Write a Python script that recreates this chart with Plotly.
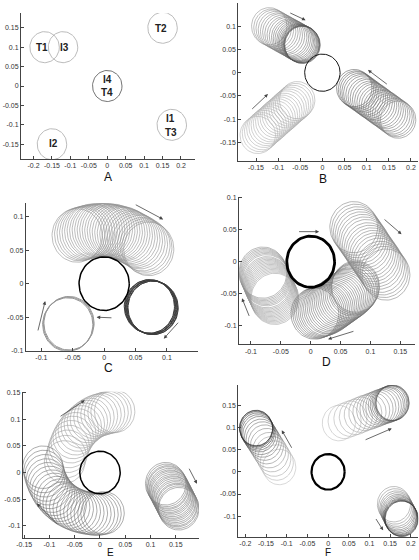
import numpy as np
import plotly.graph_objects as go

W, H = 419, 560
R = 0.04

# ---------------- data ----------------
# Panel A: named circles
A_names = ["T1", "I3", "T2", "I4/T4", "I1/T3", "I2"]
A_cx = [-0.17, -0.12, 0.15, 0.0, 0.175, -0.15]
A_cy = [0.10, 0.10, 0.15, 0.0, -0.10, -0.15]
A_lbl_text = ["T1", "I3", "T2", "I4", "T4", "I1", "T3", "I2"]
A_lbl_x = [-0.178, -0.117, 0.147, 0.0, 0.0, 0.172, 0.174, -0.146]
A_lbl_y = [0.10, 0.10, 0.149, 0.016, -0.017, -0.083, -0.119, -0.149]

# Panel B
B_ul_x = [-0.120, -0.115, -0.110, -0.105, -0.100, -0.095, -0.090, -0.085, -0.080, -0.075, -0.071,
          -0.067, -0.063, -0.060, -0.057, -0.054, -0.052, -0.050, -0.048, -0.047, -0.046, -0.045]
B_ul_y = [0.100, 0.097, 0.095, 0.092, 0.089, 0.087, 0.084, 0.081, 0.079, 0.076, 0.074,
          0.072, 0.070, 0.068, 0.066, 0.065, 0.064, 0.063, 0.062, 0.061, 0.061, 0.060]
B_ll_x = [-0.146, -0.141, -0.136, -0.131, -0.126, -0.121, -0.116, -0.111, -0.106, -0.101,
          -0.096, -0.091, -0.086, -0.081, -0.076, -0.071, -0.066, -0.061, -0.057]
B_ll_y = [-0.134, -0.130, -0.126, -0.121, -0.117, -0.113, -0.109, -0.105, -0.100, -0.096,
          -0.092, -0.088, -0.084, -0.079, -0.075, -0.071, -0.067, -0.063, -0.059]
B_r_x = [0.072, 0.076, 0.080, 0.084, 0.088, 0.093, 0.098, 0.103, 0.108, 0.113, 0.118,
         0.123, 0.128, 0.133, 0.138, 0.143, 0.148, 0.153, 0.158, 0.163, 0.167, 0.171]
B_r_y = [-0.033, -0.036, -0.038, -0.041, -0.044, -0.047, -0.051, -0.054, -0.058, -0.061, -0.064,
         -0.068, -0.071, -0.075, -0.078, -0.081, -0.085, -0.088, -0.092, -0.095, -0.098, -0.101]

# Panel C
C_top_x = [-0.043, -0.039, -0.035, -0.031, -0.027, -0.023, -0.019, -0.015, -0.011, -0.007, -0.003,
           0.001, 0.005, 0.009, 0.013, 0.017, 0.021, 0.025, 0.029, 0.033, 0.037, 0.041, 0.045,
           0.049, 0.053, 0.057, 0.061, 0.065, 0.068, 0.071]
C_top_y = [0.072, 0.074, 0.075, 0.076, 0.077, 0.078, 0.079, 0.079, 0.080, 0.080, 0.080,
           0.080, 0.080, 0.079, 0.079, 0.078, 0.077, 0.076, 0.075, 0.074, 0.072, 0.070, 0.068,
           0.066, 0.064, 0.062, 0.059, 0.057, 0.054, 0.052]
C_ll_x = [-0.058, -0.057, -0.056]
C_ll_y = [-0.061, -0.060, -0.059]
C_r_x = [0.072, 0.073, 0.074, 0.075, 0.076, 0.077, 0.078]
C_r_y = [-0.034, -0.034, -0.035, -0.035, -0.035, -0.036, -0.036]

# Panel D
D_l_x = [-0.060, -0.061, -0.062, -0.063, -0.064, -0.065, -0.066, -0.067, -0.068, -0.069, -0.070,
         -0.071, -0.072, -0.073, -0.074, -0.075, -0.076, -0.077, -0.078, -0.079, -0.080]
D_l_y = [-0.058, -0.056, -0.054, -0.052, -0.050, -0.048, -0.046, -0.044, -0.042, -0.040, -0.038,
         -0.036, -0.034, -0.032, -0.029, -0.027, -0.025, -0.023, -0.021, -0.019, -0.017]
D_m_x = [0.007, 0.010, 0.013, 0.016, 0.019, 0.022, 0.025, 0.028, 0.031, 0.034, 0.037, 0.040, 0.043,
         0.046, 0.049, 0.052, 0.055, 0.058, 0.061, 0.064, 0.067, 0.070, 0.072, 0.074, 0.075]
D_m_y = [-0.081, -0.080, -0.079, -0.078, -0.077, -0.076, -0.075, -0.073, -0.072, -0.070, -0.068,
         -0.066, -0.064, -0.062, -0.060, -0.058, -0.056, -0.054, -0.052, -0.050, -0.048, -0.045,
         -0.043, -0.041, -0.039]
D_r_x = [0.072, 0.075, 0.078, 0.081, 0.084, 0.087, 0.090, 0.093, 0.096, 0.099, 0.102, 0.105,
         0.108, 0.111, 0.114, 0.117, 0.120, 0.123, 0.126]
D_r_y = [0.054, 0.050, 0.046, 0.042, 0.038, 0.034, 0.030, 0.026, 0.021, 0.017, 0.013, 0.009,
         0.005, 0.001, -0.003, -0.008, -0.012, -0.016, -0.020]

# Panel E
E_up_x = [-0.070, -0.067, -0.064, -0.061, -0.057, -0.053, -0.048, -0.043, -0.037, -0.031,
          -0.025, -0.019, -0.012, -0.005, 0.002, 0.009, 0.016, 0.022, 0.029]
E_up_y = [0.020, 0.030, 0.040, 0.049, 0.058, 0.066, 0.073, 0.080, 0.086, 0.091,
          0.096, 0.100, 0.104, 0.107, 0.109, 0.111, 0.113, 0.114, 0.115]
E_lo_x = [-0.113, -0.111, -0.109, -0.106, -0.103, -0.099, -0.095, -0.090, -0.085, -0.079, -0.073,
          -0.067, -0.060, -0.053, -0.046, -0.039, -0.032, -0.025, -0.018, -0.011, -0.004, 0.002, 0.008]
E_lo_y = [0.010, 0.002, -0.006, -0.014, -0.021, -0.028, -0.035, -0.041, -0.047, -0.052, -0.057,
          -0.061, -0.065, -0.068, -0.071, -0.073, -0.075, -0.076, -0.077, -0.078, -0.078, -0.077, -0.076]
E_r_x = [0.130, 0.132, 0.134, 0.135, 0.137, 0.138, 0.140, 0.141, 0.143, 0.144, 0.146, 0.147,
         0.149, 0.150, 0.152, 0.153, 0.155, 0.156]
E_r_y = [-0.021, -0.024, -0.027, -0.029, -0.032, -0.035, -0.037, -0.040, -0.043, -0.046, -0.048,
         -0.051, -0.054, -0.057, -0.060, -0.062, -0.065, -0.068]

# Panel F
F_ul_x = [-0.118, -0.124, -0.130, -0.136, -0.142, -0.148, -0.153, -0.158, -0.162, -0.166, -0.169,
          -0.171, -0.173, -0.174, -0.174]
F_ul_y = [0.011, 0.021, 0.030, 0.040, 0.049, 0.058, 0.066, 0.073, 0.079, 0.085, 0.089,
          0.093, 0.096, 0.098, 0.099]
F_ur_x = [0.026, 0.040, 0.054, 0.067, 0.079, 0.090, 0.100, 0.109, 0.117, 0.124, 0.131, 0.137,
          0.142, 0.146, 0.150, 0.153, 0.155, 0.156]
F_ur_y = [0.110, 0.115, 0.120, 0.124, 0.129, 0.133, 0.136, 0.139, 0.142, 0.145, 0.147, 0.149,
          0.151, 0.152, 0.154, 0.155, 0.155, 0.156]
F_lr_x = [0.159, 0.162, 0.165, 0.167, 0.169, 0.171, 0.173, 0.174, 0.175, 0.176, 0.177, 0.178]
F_lr_y = [-0.073, -0.078, -0.083, -0.087, -0.091, -0.094, -0.097, -0.100, -0.102, -0.104, -0.105, -0.106]

# arrows: (tail_x, tail_y, head_x, head_y)
B_arrows = [(-0.076, 0.130, -0.038, 0.113), (-0.162, -0.081, -0.123, -0.046), (0.149, -0.027, 0.103, 0.006)]
C_arrows = [(0.048, 0.119, 0.094, 0.096), (-0.106, -0.072, -0.094, -0.026),
            (0.014, -0.051, -0.012, -0.050), (0.120, -0.056, 0.095, -0.082)]
D_arrows = [(-0.022, 0.047, 0.014, 0.047), (0.121, 0.068, 0.152, 0.043),
            (0.074, -0.108, 0.029, -0.121), (-0.102, -0.087, -0.115, -0.057)]
E_arrows = [(-0.081, 0.104, -0.030, 0.136), (-0.081, -0.100, -0.125, -0.058), (0.175, 0.010, 0.192, -0.021)]
F_arrows = [(-0.086, 0.051, -0.112, 0.094), (0.087, 0.071, 0.154, 0.098), (0.1135, -0.103, 0.133, -0.132)]

# ticks
A_xt = [-0.2, -0.15, -0.1, -0.05, 0, 0.05, 0.1, 0.15, 0.2]
A_yt = [-0.15, -0.1, -0.05, 0, 0.05, 0.1, 0.15]
B_xt = [-0.15, -0.1, -0.05, 0, 0.05, 0.1, 0.15, 0.2]
B_yt = [-0.15, -0.1, -0.05, 0, 0.05, 0.1]
C_xt = [-0.1, -0.05, 0, 0.05, 0.1]
C_yt = [-0.1, -0.05, 0, 0.05, 0.1]
D_xt = [-0.1, -0.05, 0, 0.05, 0.1, 0.15]
D_yt = [-0.1, -0.05, 0, 0.05, 0.1]
E_xt = [-0.15, -0.1, -0.05, 0, 0.05, 0.1, 0.15]
E_yt = [-0.1, -0.05, 0, 0.05, 0.1, 0.15]
F_xt = [-0.2, -0.15, -0.1, -0.05, 0, 0.05, 0.1, 0.15, 0.2]
F_yt = [-0.1, -0.05, 0, 0.05, 0.1, 0.15]
panel_names = ["A", "B", "C", "D", "E", "F"]

# ---------------- layout geometry (px) ----------------
# name: (x0, x1, ytop, ybottom, xrange, yrange, xticks, yticks, label px, label anchor, label size)
panels = {
    "A": (21, 195, 13, 159, [-0.234, 0.238], [-0.188, 0.188], A_xt, A_yt, (108, 177), "middle", 12),
    "B": (238.3, 418, 3, 161, [-0.19, 0.216], [-0.19, 0.15], B_xt, B_yt, (323, 179), "middle", 12),
    "C": (25.7, 198.3, 203.3, 350.7, [-0.125, 0.15], [-0.1, 0.12], C_xt, C_yt, (108, 368), "middle", 12),
    "D": (239, 414.7, 196.7, 344.3, [-0.12, 0.174], [-0.129, 0.1016], D_xt, D_yt, (326, 362), "middle", 12),
    "E": (22.7, 199, 391.7, 538, [-0.153, 0.196], [-0.123, 0.152], E_xt, E_yt, (110, 560), "bottom", 10),
    "F": (238.3, 418.3, 385, 537, [-0.217, 0.218], [-0.147, 0.196], F_xt, F_yt, (328, 560), "bottom", 10),
}

fig = go.Figure()
theta = np.linspace(0, 2 * np.pi, 73)


def fmt(v):
    if v == 0:
        return "0"
    return "%g" % v


def grey(level):
    g = int(round(level))
    return "rgb(%d,%d,%d)" % (g, g, g)


def circles(ax, xs, ys, c0, c1=None, width=0.6, r=R):
    n = len(xs)
    for i, (cx, cy) in enumerate(zip(xs, ys)):
        if c1 is None:
            col = grey(c0)
        else:
            t = i / max(n - 1, 1)
            col = grey(c0 + (c1 - c0) * t)
        fig.add_trace(go.Scatter(x=cx + r * np.cos(theta), y=cy + r * np.sin(theta),
                                 mode="lines", line=dict(color=col, width=width),
                                 xaxis="x" + ax, yaxis="y" + ax, hoverinfo="skip",
                                 showlegend=False))


def arrows(ax, lst):
    for (tx, ty, hx, hy) in lst:
        fig.add_annotation(x=hx, y=hy, ax=tx, ay=ty, xref="x" + ax, yref="y" + ax,
                           axref="x" + ax, ayref="y" + ax, showarrow=True, text="",
                           arrowhead=2, arrowsize=0.9, arrowwidth=0.8, arrowcolor="#444")


ids = {"A": "", "B": "2", "C": "3", "D": "4", "E": "5", "F": "6"}

# Panel A
for cx, cy, nm in zip(A_cx, A_cy, A_names):
    circles(ids["A"], [cx], [cy], 80 if nm == "I4/T4" else 170, width=0.8)
for t, x, y in zip(A_lbl_text, A_lbl_x, A_lbl_y):
    fig.add_annotation(x=x, y=y, xref="x", yref="y", text="<b>%s</b>" % t, showarrow=False,
                       font=dict(family="Liberation Sans, Arial", size=10, color="#222"))

# Panel B
circles("2", B_ll_x, B_ll_y, 180, 170)
circles("2", B_ul_x, B_ul_y, 150, 80)
circles("2", B_r_x, B_r_y, 95, 125)
circles("2", [0], [0], 20, width=1.0)
arrows("2", B_arrows)

# Panel C
circles("3", C_top_x, C_top_y, 145, 145)
circles("3", C_ll_x, C_ll_y, 150, width=1.0)
circles("3", C_r_x, C_r_y, 60, width=1.0)
circles("3", [0], [0], 0, width=1.5)
arrows("3", C_arrows)

# Panel D
circles("4", D_l_x, D_l_y, 165, 145)
circles("4", D_m_x, D_m_y, 115, 115)
circles("4", D_r_x, D_r_y, 135, 135)
circles("4", [0], [0], 0, width=2.8)
arrows("4", D_arrows)

# Panel E
circles("5", E_up_x, E_up_y, 160, 160)
circles("5", E_lo_x, E_lo_y, 115, 115)
circles("5", E_r_x, E_r_y, 125, 125)
circles("5", [0], [0], 0, width=1.5)
arrows("5", E_arrows)

# Panel F
circles("6", F_ul_x, F_ul_y, 190, 40)
circles("6", F_ur_x, F_ur_y, 190, 80)
circles("6", F_lr_x, F_lr_y, 150, 50)
circles("6", [0], [0], 0, width=2.2)
arrows("6", F_arrows)

layout = dict(width=W, height=H, margin=dict(l=0, r=0, t=0, b=0, autoexpand=False),
              paper_bgcolor="white", plot_bgcolor="white", showlegend=False)

for name in panel_names:
    x0, x1, yt, yb, xr, yr, xt, yt_vals, (lx, ly), anch, lsize = panels[name]
    i = ids[name]
    axstyle = dict(showline=True, linecolor="#444", linewidth=1, showgrid=False, zeroline=False,
                   ticks="inside", ticklen=3, tickcolor="#444", tickwidth=0.8,
                   tickfont=dict(family="Liberation Sans, Arial", size=7, color="#333"))
    layout["xaxis" + i] = dict(domain=[x0 / W, x1 / W], range=xr, anchor="y" + i,
                               tickvals=xt, ticktext=[fmt(v) for v in xt], **axstyle)
    layout["yaxis" + i] = dict(domain=[1 - yb / H, 1 - yt / H], range=yr, anchor="x" + i,
                               tickvals=yt_vals, ticktext=[fmt(v) for v in yt_vals], **axstyle)
    fig.add_annotation(x=lx / W, y=1 - ly / H, xref="paper", yref="paper", text=name,
                       showarrow=False, xanchor="center", yanchor=anch,
                       font=dict(family="Liberation Sans, Arial", size=lsize, color="#111"))

fig.update_layout(**layout)
fig.write_html("out.html", config={"displayModeBar": False},
               post_script="document.body.style.margin='0';document.body.style.overflow='hidden';")
